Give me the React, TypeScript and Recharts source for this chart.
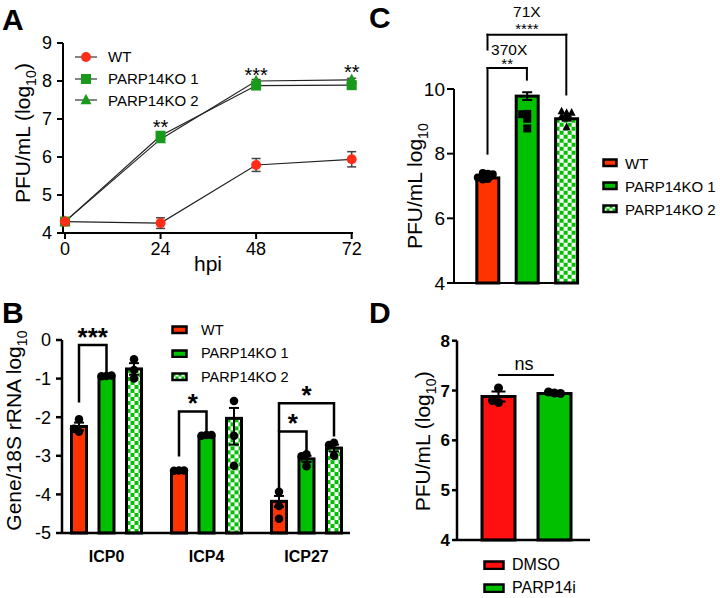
import React from 'react';
import {
  LineChart, Line, BarChart, Bar, XAxis, YAxis, ErrorBar, LabelList, Legend, ReferenceLine,
} from 'recharts';

const FONT = '"Liberation Sans", Arial, Helvetica, sans-serif';
const RED_A = '#ff2c18';
const GREEN_A = '#1a9a1a';
const RED_BC = '#ff3300';
const GREEN = '#00c000';
const RED_D = '#ff1010';

// ---------------- Panel A ----------------
const hpiA = [0, 24, 48, 72];
const wtA = [4.3, 4.26, 5.79, 5.94];
const wtErrA = [0.03, 0.14, 0.17, 0.2];
const ko1A = [4.3, 6.56, 7.88, 7.89];
const ko1ErrA = [0.02, 0.06, 0.04, 0.04];
const ko2A = [4.3, 6.47, 8.0, 8.03];
const ko2ErrA = [0.02, 0.05, 0.04, 0.04];
const sigA = ['', '**', '***', '**'];
const sigYA = [null, 6.61, 7.98, 8.05];
const yTicksA = [4, 5, 6, 7, 8, 9];
const namesA = ['WT', 'PARP14KO 1', 'PARP14KO 2'];

// ---------------- Panel B ----------------
const genesB = ['ICP0', 'ICP4', 'ICP27'];
const wtB = [-2.24, -3.42, -4.18];
const wtErrB = [0.1, 0.02, 0.14];
const wtDotsB = [[-2.05, -2.38, -2.3], [-3.38, -3.39, -3.38], [-3.93, -4.3, -4.63]];
const ko1B = [-0.94, -2.5, -3.08];
const ko1ErrB = [0.02, 0.03, 0.08];
const ko1DotsB = [[-0.93, -0.94, -0.92], [-2.46, -2.48, -2.46], [-2.96, -3.27, -3.01]];
const ko2B = [-0.75, -2.03, -2.8];
const ko2ErrB = [[0.15, 0.15], [0.68, 0.27], [0.09, 0.09]];
const ko2DotsB = [[-0.5, -0.78, -1.0], [-1.58, -2.48, -3.26], [-2.66, -3.0, -2.72]];
const yTicksB = [-5, -4, -3, -2, -1, 0];
const namesB = ['WT', 'PARP14KO 1', 'PARP14KO 2'];
const sigB = [
  { gene: 'ICP0', to: 1, top: -0.13, leftEnd: -1.62, rightEnd: -0.9, label: '***' },
  { gene: 'ICP4', to: 1, top: -1.85, leftEnd: -3.02, rightEnd: -2.41, label: '*' },
  { gene: 'ICP27', to: 1, top: -2.37, leftEnd: -3.92, rightEnd: -2.89, label: '*' },
  { gene: 'ICP27', to: 2, top: -1.64, leftEnd: -2.37, rightEnd: -2.5, label: '*' },
];

// ---------------- Panel C ----------------
const groupsC = ['WT', 'PARP14KO 1', 'PARP14KO 2'];
const meanC = [7.25, 9.78, 9.08];
const errC = [0.04, 0.12, 0.06];
const dotsC = [
  [7.38, 7.4, 7.36, 7.22, 7.2, 7.26],
  [9.23, 9.08, 8.78, 9.22],
  [9.26, 9.31, 9.27, 9.15, 8.82],
];
const yTicksC = [4, 6, 8, 10];
const sigC = [
  { from: 'WT', to: 'PARP14KO 1', top: 10.65, leftEnd: 8.0, rightEnd: 10.29, stars: '**', fold: '370X' },
  { from: 'WT', to: 'PARP14KO 2', top: 11.68, leftEnd: 11.22, rightEnd: 9.83, stars: '****', fold: '71X' },
];

// ---------------- Panel D ----------------
const groupsD = ['DMSO', 'PARP14i'];
const meanD = [6.88, 6.94];
const errD = [0.1, 0.01];
const dotsD = [[7.05, 6.76, 6.8], [6.95, 6.97, 6.94]];
const yTicksD = [4, 5, 6, 7, 8];
const nsD = { y: 7.31, label: 'ns' };

// ---------------- tables built from arrays ----------------
const dataA = hpiA.map((h, i) => ({
  hpi: h,
  wt: wtA[i], wtErr: wtErrA[i],
  ko1: ko1A[i], ko1Err: ko1ErrA[i],
  ko2: ko2A[i], ko2Err: ko2ErrA[i],
  sig: sigA[i], sigY: sigYA[i],
}));

const dataB = genesB.map((g, i) => ({
  gene: g,
  wt: wtB[i], wtErr: wtErrB[i], wtDots: wtDotsB[i],
  ko1: ko1B[i], ko1Err: ko1ErrB[i], ko1Dots: ko1DotsB[i],
  ko2: ko2B[i], ko2Err: ko2ErrB[i], ko2Dots: ko2DotsB[i],
}));

const dataC = groupsC.map((g, i) => ({ group: g, mean: meanC[i], err: errC[i], dots: dotsC[i] }));
const dataD = groupsD.map((g, i) => ({ group: g, mean: meanD[i], err: errD[i], dots: dotsD[i] }));

// ---------------- helpers ----------------
type Marker = 'circle' | 'square' | 'triangle';

function markerEl(kind: Marker, cx: number, cy: number, size: number, fill: string, key: string) {
  if (kind === 'circle') return <circle key={key} cx={cx} cy={cy} r={size / 2} fill={fill} />;
  if (kind === 'square')
    return <rect key={key} x={cx - size / 2} y={cy - size / 2} width={size} height={size} fill={fill} />;
  const h = size * 0.95;
  return (
    <polygon
      key={key}
      points={`${cx},${cy - h * 0.6} ${cx + size / 2},${cy + h * 0.4} ${cx - size / 2},${cy + h * 0.4}`}
      fill={fill}
    />
  );
}

function spread(pys: number[], minDist: number, step: number): number[] {
  const placed: { x: number; y: number }[] = [];
  return pys.map((py) => {
    const cands = [0, -step, step, -2 * step, 2 * step, -3 * step, 3 * step];
    for (const c of cands) {
      if (placed.every((p) => Math.hypot(p.x - c, p.y - py) >= minDist)) {
        placed.push({ x: c, y: py });
        return c;
      }
    }
    placed.push({ x: 0, y: py });
    return 0;
  });
}

function CheckerPattern({ id, x = 0, y = 0, s = 4 }: { id: string; x?: number; y?: number; s?: number }) {
  return (
    <pattern id={id} x={x} y={y} width={s * 2} height={s * 2} patternUnits="userSpaceOnUse">
      <rect width={s * 2} height={s * 2} fill="#fff" />
      <rect width={s} height={s} fill={GREEN} />
      <rect x={s} y={s} width={s} height={s} fill={GREEN} />
    </pattern>
  );
}

type ShapeCfg = {
  pid: string;
  dmin: number;
  dmax: number;
  valueKey: string;
  fill: (i: number) => string;
  checker: (i: number) => boolean;
  dotsKey: string;
  marker: (i: number) => Marker;
  dotSize: number;
  strokeW: number;
  step: number;
  minDist: number;
  extra?: (p: any, yPix: (v: number) => number) => React.ReactNode;
};

// The bar rectangle is rebuilt from the library's own plot geometry (background band),
// so that bars always rise from the bottom of the value axis.
function makeBarShape(cfg: ShapeCfg) {
  return (p: any) => {
    const { x, width, index } = p;
    const bg = p.background;
    if (!bg || !(bg.height > 0)) return <g />;
    const yPix = (v: number) => bg.y + ((cfg.dmax - v) / (cfg.dmax - cfg.dmin)) * bg.height;
    const val = p.payload ? p.payload[cfg.valueKey] : cfg.dmin;
    const top = yPix(val);
    const bottom = yPix(cfg.dmin);
    const cx = x + width / 2;
    const chk = cfg.checker(index);
    const pid = `chk-${cfg.pid}-${index}`;
    const dots: number[] = (p.payload && p.payload[cfg.dotsKey]) || [];
    const pys = dots.map(yPix);
    const offs = spread(pys, cfg.minDist, cfg.step);
    return (
      <g>
        {chk && (
          <defs>
            <CheckerPattern id={pid} x={x} y={top} />
          </defs>
        )}
        <rect
          x={x}
          y={top}
          width={width}
          height={Math.max(0, bottom - top)}
          fill={chk ? `url(#${pid})` : cfg.fill(index)}
          stroke="#000"
          strokeWidth={cfg.strokeW}
        />
        {pys.map((py, k) => markerEl(cfg.marker(index), cx + offs[k], py, cfg.dotSize, '#000', `dot${k}`))}
        {cfg.extra ? cfg.extra(p, yPix) : null}
      </g>
    );
  };
}

const YTitle = (props: any) => {
  const vb = props.viewBox || { x: 0, y: 0, width: 0, height: 0 };
  const x = (vb.x || 0) + props.base;
  const y = (vb.y || 0) + (vb.height || 0) / 2 + (props.shift || 0);
  const fs = props.fontSize || 21;
  return (
    <text
      x={x}
      y={y}
      transform={`rotate(-90 ${x} ${y})`}
      textAnchor="middle"
      fontFamily={FONT}
      fontSize={fs}
      fill="#000"
    >
      <tspan>{props.main}</tspan>
      <tspan dy={fs * 0.3} fontSize={fs * 0.68}>
        {props.sub}
      </tspan>
      {props.tail ? <tspan dy={-fs * 0.3}>{props.tail}</tspan> : null}
    </text>
  );
};

const XTitle = (props: any) => {
  const vb = props.viewBox || { x: 0, y: 0, width: 0, height: 0 };
  return (
    <text
      x={vb.x + vb.width / 2}
      y={vb.y + props.dy}
      textAnchor="middle"
      fontFamily={FONT}
      fontSize={props.fontSize}
      fill="#000"
    >
      {props.text}
    </text>
  );
};

type SwItem = { label: string; color: string; checker?: boolean };
function SwatchLegend({
  items, fontSize, rowH, swW, swH, gap, pid,
}: { items: SwItem[]; fontSize: number; rowH: number; swW: number; swH: number; gap: number; pid: string }) {
  return (
    <div style={{ fontFamily: FONT, fontSize, color: '#000' }}>
      {items.map((it, i) => (
        <div key={i} style={{ display: 'flex', alignItems: 'center', height: rowH, whiteSpace: 'nowrap' }}>
          <svg width={swW + 3} height={swH + 3} style={{ marginRight: gap, flex: 'none', display: 'block' }}>
            {it.checker && (
              <defs>
                <CheckerPattern id={`lg-${pid}-${i}`} x={1.5} y={1.5} s={3} />
              </defs>
            )}
            <rect
              x={1.5}
              y={1.5}
              width={swW}
              height={swH}
              fill={it.checker ? `url(#lg-${pid}-${i})` : it.color}
              stroke="#000"
              strokeWidth={2.5}
            />
          </svg>
          <span>{it.label}</span>
        </div>
      ))}
    </div>
  );
}

const axisStyle = (w: number) => ({ stroke: '#000', strokeWidth: w });

// ---------------- Panel A ----------------
const markersA: Marker[] = ['circle', 'square', 'triangle'];
const colorsA = [RED_A, GREEN_A, GREEN_A];

const dotFn = (kind: Marker, color: string, size: number) => (p: any) => {
  if (p.cx == null || p.cy == null) return <g key={`n${p.index}`} />;
  return markerEl(kind, p.cx, p.cy, size, color, `d${p.index}`);
};

const StarLabel = (p: any) => {
  if (!p.value || p.x == null || p.y == null) return null;
  return (
    <text x={p.x} y={p.y} textAnchor="middle" fontFamily={FONT} fontSize={20} fill="#000">
      {p.value}
    </text>
  );
};

function LineLegendA() {
  return (
    <div style={{ fontFamily: FONT, fontSize: 15, color: '#000' }}>
      {namesA.map((n, i) => (
        <div key={i} style={{ display: 'flex', alignItems: 'center', height: 21.7, whiteSpace: 'nowrap' }}>
          <svg width={22} height={14} style={{ marginRight: 11, flex: 'none', display: 'block' }}>
            <line x1={0} y1={7} x2={22} y2={7} stroke="#333" strokeWidth={1.2} />
            {markerEl(markersA[i], 11, 7, i === 2 ? 11 : 10, colorsA[i], 'm')}
          </svg>
          <span>{n}</span>
        </div>
      ))}
    </div>
  );
}

function PanelA() {
  return (
    <LineChart width={370} height={290} data={dataA} margin={{ top: 43, right: 17, bottom: 0, left: 0 }}>
      <XAxis
        dataKey="hpi"
        type="number"
        domain={[-0.5, 72.33]}
        ticks={hpiA}
        interval={0}
        height={57}
        axisLine={axisStyle(2)}
        tickLine={axisStyle(2)}
        tickSize={6}
        tickMargin={3}
        tick={{ fontSize: 18, fill: '#000', fontFamily: FONT }}
        label={<XTitle text="hpi" dy={38} fontSize={21} />}
      />
      <YAxis
        type="number"
        domain={[4, 9]}
        ticks={yTicksA}
        interval={0}
        width={63}
        axisLine={axisStyle(2)}
        tickLine={axisStyle(2)}
        tickSize={6}
        tickMargin={5}
        tick={{ fontSize: 18, fill: '#000', fontFamily: FONT }}
        label={<YTitle base={30} shift={-5} main="PFU/mL (log" sub="10" tail=")" fontSize={21} />}
      />
      <Line dataKey="ko1" stroke="#222" strokeWidth={1.2} dot={dotFn('square', GREEN_A, 10)} isAnimationActive={false}>
        <ErrorBar dataKey="ko1Err" width={4.5} stroke="#444" strokeWidth={1.5} direction="y" />
      </Line>
      <Line dataKey="ko2" stroke="#222" strokeWidth={1.2} dot={dotFn('triangle', GREEN_A, 11)} isAnimationActive={false}>
        <ErrorBar dataKey="ko2Err" width={4.5} stroke="#444" strokeWidth={1.5} direction="y" />
      </Line>
      <Line dataKey="wt" stroke="#222" strokeWidth={1.2} dot={dotFn('circle', RED_A, 10)} isAnimationActive={false}>
        <ErrorBar dataKey="wtErr" width={4.5} stroke="#444" strokeWidth={1.5} direction="y" />
      </Line>
      <Line dataKey="sigY" stroke="none" dot={false} activeDot={false} isAnimationActive={false}>
        <LabelList dataKey="sig" content={StarLabel} />
      </Line>
      <Legend
        layout="vertical"
        align="center"
        verticalAlign="middle"
        content={() => <LineLegendA />}
        wrapperStyle={{ left: 75, top: 46, width: 200 }}
      />
    </LineChart>
  );
}

// ---------------- Panel B ----------------
const BAR_B = 15;
const GAP_B = 12.5;

const bracketsB = (p: any, yPix: (v: number) => number) => {
  const cx = p.x + p.width / 2;
  const gene = p.payload && p.payload.gene;
  return sigB
    .filter((s) => s.gene === gene)
    .map((s, k) => {
      const ox = cx + s.to * (BAR_B + GAP_B);
      const yt = yPix(s.top);
      return (
        <g key={`br${k}`}>
          <path
            d={`M${cx},${yPix(s.leftEnd)} V${yt} H${ox} V${yPix(s.rightEnd)}`}
            fill="none"
            stroke="#000"
            strokeWidth={2.5}
          />
          <text
            x={(cx + ox) / 2}
            y={yt + 1}
            textAnchor="middle"
            fontFamily={FONT}
            fontSize={26}
            fontWeight="bold"
            fill="#000"
          >
            {s.label}
          </text>
        </g>
      );
    });
};

const baseB = { dmin: -5, dmax: 0, dotSize: 8.5, strokeW: 3, step: 5, minDist: 4, marker: () => 'circle' as Marker };
const shapeBwt = makeBarShape({ ...baseB, pid: 'bwt', valueKey: 'wt', fill: () => RED_BC, checker: () => false, dotsKey: 'wtDots', extra: bracketsB });
const shapeBko1 = makeBarShape({ ...baseB, pid: 'bko1', valueKey: 'ko1', fill: () => GREEN, checker: () => false, dotsKey: 'ko1Dots' });
const shapeBko2 = makeBarShape({ ...baseB, pid: 'bko2', valueKey: 'ko2', fill: () => GREEN, checker: () => true, dotsKey: 'ko2Dots' });

function PanelB() {
  const items: SwItem[] = [
    { label: namesB[0], color: RED_BC },
    { label: namesB[1], color: GREEN },
    { label: namesB[2], color: GREEN, checker: true },
  ];
  return (
    <BarChart
      width={370}
      height={308}
      data={dataB}
      margin={{ top: 50, right: 20, bottom: 0, left: 0 }}
      barSize={BAR_B}
      barGap={GAP_B}
    >
      <XAxis
        dataKey="gene"
        padding={{ left: -5.5, right: -6.5 }}
        height={65}
        interval={0}
        axisLine={axisStyle(2.5)}
        tickLine={false}
        tickSize={6}
        tickMargin={12}
        tick={{ fontSize: 16, fontWeight: 'bold', fill: '#000', fontFamily: FONT }}
      />
      <YAxis
        type="number"
        domain={[-5, 0]}
        ticks={yTicksB}
        interval={0}
        width={62}
        axisLine={axisStyle(2.5)}
        tickLine={axisStyle(2.5)}
        tickSize={6}
        tickMargin={5}
        tick={{ fontSize: 18, fill: '#000', fontFamily: FONT }}
        label={<YTitle base={21} shift={-6} main="Gene/18S rRNA log" sub="10" fontSize={21} />}
      />
      <Bar dataKey="wt" shape={shapeBwt} isAnimationActive={false}>
        <ErrorBar dataKey="wtErr" width={5} stroke="#000" strokeWidth={2} direction="y" />
      </Bar>
      <Bar dataKey="ko1" shape={shapeBko1} isAnimationActive={false}>
        <ErrorBar dataKey="ko1Err" width={5} stroke="#000" strokeWidth={2} direction="y" />
      </Bar>
      <Bar dataKey="ko2" shape={shapeBko2} isAnimationActive={false}>
        <ErrorBar dataKey="ko2Err" width={5} stroke="#000" strokeWidth={2} direction="y" />
      </Bar>
      <Legend
        layout="vertical"
        align="center"
        verticalAlign="middle"
        content={() => <SwatchLegend items={items} fontSize={14.5} rowH={23.5} swW={14} swH={6.5} gap={13} pid="b" />}
        wrapperStyle={{ left: 171, top: 28, width: 190 }}
      />
    </BarChart>
  );
}

// ---------------- Panel C ----------------
const markersC: Marker[] = ['circle', 'square', 'triangle'];
const shapeC = makeBarShape({
  pid: 'c',
  dmin: 4,
  dmax: 10,
  valueKey: 'mean',
  fill: (i) => (i === 0 ? RED_BC : GREEN),
  checker: (i) => i === 2,
  dotsKey: 'dots',
  marker: (i) => markersC[i],
  dotSize: 8,
  strokeW: 3,
  step: 5,
  minDist: 4,
});

const BracketText = (props: any) => {
  const vb = props.viewBox || { x: 0, y: 0, width: 0 };
  const cx = vb.x + (vb.width || 0) / 2;
  const y = vb.y;
  return (
    <g>
      <text x={cx} y={y + props.starDy} textAnchor="middle" fontFamily={FONT} fontSize={props.starSize} fill="#000" style={{ fill: '#000' }}>
        {props.stars}
      </text>
      <text x={cx + props.foldDx} y={y + props.foldDy} textAnchor="middle" fontFamily={FONT} fontSize={15.5} fill="#000" style={{ fill: '#000' }}>
        {props.fold}
      </text>
    </g>
  );
};

const bracketTextCfg = [
  { starDy: 1.5, starSize: 15, foldDx: 2, foldDy: -13 },
  { starDy: -0.6, starSize: 15, foldDx: 0, foldDy: -17.7 },
];

function PanelC() {
  const items: SwItem[] = [
    { label: groupsC[0], color: RED_BC },
    { label: groupsC[1], color: GREEN },
    { label: groupsC[2], color: GREEN, checker: true },
  ];
  const lineProps = { stroke: '#000', strokeWidth: 2, ifOverflow: 'visible' as const, strokeLinecap: 'square' as const };
  return (
    <BarChart width={350} height={300} data={dataC} margin={{ top: 89, right: 141, bottom: 0, left: 0 }} barSize={22}>
      <XAxis
        dataKey="group"
        padding={{ left: 13.8, right: -7 }}
        height={17}
        tick={false}
        tickLine={false}
        axisLine={axisStyle(2)}
      />
      <YAxis
        type="number"
        domain={[4, 10]}
        ticks={yTicksC}
        interval={0}
        width={84}
        axisLine={axisStyle(2)}
        tickLine={axisStyle(2)}
        tickSize={7}
        tickMargin={2}
        tick={{ fontSize: 19, fill: '#000', fontFamily: FONT }}
        label={<YTitle base={52} shift={0} main="PFU/mL log" sub="10" fontSize={21} />}
      />
      <Bar dataKey="mean" shape={shapeC} isAnimationActive={false}>
        <ErrorBar dataKey="err" width={5} stroke="#000" strokeWidth={2} direction="y" />
      </Bar>
      {sigC.map((s, k) => (
        <ReferenceLine key={`cl${k}`} segment={[{ x: s.from, y: s.leftEnd }, { x: s.from, y: s.top }]} {...lineProps} />
      ))}
      {sigC.map((s, k) => (
        <ReferenceLine
          key={`ct${k}`}
          segment={[{ x: s.from, y: s.top }, { x: s.to, y: s.top }]}
          {...lineProps}
          label={<BracketText stars={s.stars} fold={s.fold} {...bracketTextCfg[k]} />}
        />
      ))}
      {sigC.map((s, k) => (
        <ReferenceLine key={`cr${k}`} segment={[{ x: s.to, y: s.top }, { x: s.to, y: s.rightEnd }]} {...lineProps} />
      ))}
      <Legend
        layout="vertical"
        align="center"
        verticalAlign="middle"
        content={() => <SwatchLegend items={items} fontSize={15} rowH={23} swW={13} swH={6.5} gap={7} pid="c" />}
        wrapperStyle={{ left: 232, top: 151.5, width: 118 }}
      />
    </BarChart>
  );
}

// ---------------- Panel D ----------------
const shapeD = makeBarShape({
  pid: 'd',
  dmin: 4,
  dmax: 8,
  valueKey: 'mean',
  fill: (i) => (i === 0 ? RED_D : GREEN),
  checker: () => false,
  dotsKey: 'dots',
  marker: () => 'circle',
  dotSize: 9,
  strokeW: 3,
  step: 6,
  minDist: 6,
});

const NsLabel = (props: any) => {
  const vb = props.viewBox || { x: 0, y: 0, width: 0 };
  return (
    <text x={vb.x + (vb.width || 0) / 2 - 2} y={vb.y - 5} textAnchor="middle" fontFamily={FONT} fontSize={18} fill="#000">
      {props.text}
    </text>
  );
};

function PanelD() {
  const items: SwItem[] = [
    { label: groupsD[0], color: RED_D },
    { label: groupsD[1], color: GREEN },
  ];
  return (
    <BarChart width={350} height={308} data={dataD} margin={{ top: 50.7, right: 130, bottom: 0, left: 0 }} barSize={33}>
      <XAxis
        dataKey="group"
        padding={{ left: 13, right: 8 }}
        height={58}
        tick={false}
        tickLine={false}
        axisLine={axisStyle(2.5)}
      />
      <YAxis
        type="number"
        domain={[4, 8]}
        ticks={yTicksD}
        interval={0}
        width={87}
        axisLine={axisStyle(2.5)}
        tickLine={axisStyle(2.5)}
        tickSize={5}
        tickMargin={2}
        tick={{ fontSize: 17, fontWeight: 'bold', fill: '#000', fontFamily: FONT }}
        label={<YTitle base={60} shift={1} main="PFU/mL (log" sub="10" tail=")" fontSize={21} />}
      />
      <Bar dataKey="mean" shape={shapeD} isAnimationActive={false}>
        <ErrorBar dataKey="err" width={7} stroke="#000" strokeWidth={2} direction="y" />
      </Bar>
      <ReferenceLine
        segment={[{ x: groupsD[0], y: nsD.y }, { x: groupsD[1], y: nsD.y }]}
        stroke="#000"
        strokeWidth={2}
        ifOverflow="visible"
        label={<NsLabel text={nsD.label} />}
      />
      <Legend
        layout="vertical"
        align="center"
        verticalAlign="middle"
        content={() => <SwatchLegend items={items} fontSize={16} rowH={23} swW={19} swH={7.5} gap={7} pid="d" />}
        wrapperStyle={{ left: 113, top: 263.5, width: 160 }}
      />
    </BarChart>
  );
}

function Letters() {
  const st = { fontFamily: FONT, fontSize: 30, fontWeight: 'bold' as const, fill: '#000' };
  return (
    <svg width={720} height={598} style={{ position: 'absolute', left: 0, top: 0, pointerEvents: 'none' }}>
      <text x={2} y={30} {...st}>A</text>
      <text x={2} y={323} {...st}>B</text>
      <text x={369} y={28} {...st}>C</text>
      <text x={369} y={323} {...st}>D</text>
    </svg>
  );
}

export default function App() {
  return (
    <div
      style={{
        position: 'absolute',
        left: 0,
        top: 0,
        width: 720,
        height: 598,
        background: '#fff',
        overflow: 'hidden',
        fontFamily: FONT,
      }}
    >
      <div style={{ position: 'absolute', left: 0, top: 0 }}>
        <PanelA />
      </div>
      <div style={{ position: 'absolute', left: 0, top: 290 }}>
        <PanelB />
      </div>
      <div style={{ position: 'absolute', left: 370, top: 0 }}>
        <PanelC />
      </div>
      <div style={{ position: 'absolute', left: 370, top: 290 }}>
        <PanelD />
      </div>
      <Letters />
    </div>
  );
}
